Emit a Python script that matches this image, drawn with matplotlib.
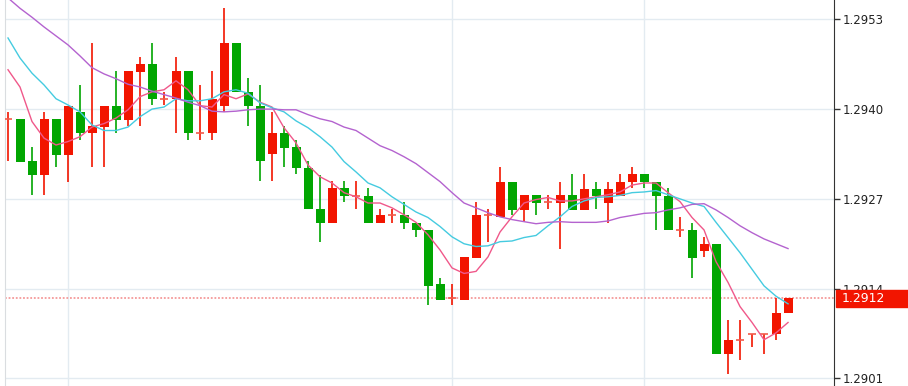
import math
import matplotlib
matplotlib.use("Agg")
import matplotlib.pyplot as plt
import matplotlib.transforms as mtransforms
from matplotlib.patches import Rectangle
import numpy as np

# OHLC per candle, oldest first
opens = [1.29386, 1.29386, 1.29325, 1.29305, 1.29386, 1.29334, 1.29396, 1.29366, 1.29374, 1.29405,
         1.29384, 1.29454, 1.29465, 1.29415, 1.29415, 1.29455, 1.29366, 1.29366, 1.29405, 1.29496,
         1.29425, 1.29405, 1.29335, 1.29366, 1.29345, 1.29315, 1.29256, 1.29235, 1.29286, 1.29274,
         1.29274, 1.29235, 1.29246, 1.29246, 1.29235, 1.29225, 1.29146, 1.29126, 1.29124, 1.29185,
         1.29246, 1.29244, 1.29295, 1.29254, 1.29276, 1.29266, 1.29264, 1.29276, 1.29254, 1.29285,
         1.29264, 1.29274, 1.29295, 1.29306, 1.29295, 1.29274, 1.29225, 1.29225, 1.29195, 1.29205,
         1.29045, 1.29065, 1.29075, 1.29075, 1.29075, 1.29105]
highs = [1.29396, 1.29386, 1.29345, 1.29396, 1.29386, 1.29405, 1.29435, 1.29496, 1.29405, 1.29455,
         1.29455, 1.29476, 1.29496, 1.29425, 1.29476, 1.29455, 1.29435, 1.29455, 1.29546, 1.29496,
         1.29445, 1.29435, 1.29396, 1.29376, 1.29355, 1.29325, 1.29305, 1.29296, 1.29296, 1.29296,
         1.29286, 1.29256, 1.29256, 1.29266, 1.29235, 1.29225, 1.29156, 1.29146, 1.29186, 1.29266,
         1.29256, 1.29316, 1.29295, 1.29276, 1.29276, 1.29276, 1.29295, 1.29306, 1.29306, 1.29295,
         1.29295, 1.29306, 1.29316, 1.29306, 1.29295, 1.29286, 1.29244, 1.29235, 1.29215, 1.29205,
         1.29095, 1.29095, 1.29075, 1.29075, 1.29126, 1.29126]
lows = [1.29325, 1.29324, 1.29276, 1.29276, 1.29316, 1.29295, 1.29355, 1.29316, 1.29316, 1.29366,
        1.29376, 1.29376, 1.29406, 1.29406, 1.29366, 1.29355, 1.29355, 1.29355, 1.29396, 1.29425,
        1.29376, 1.29296, 1.29296, 1.29316, 1.29306, 1.29256, 1.29207, 1.29235, 1.29266, 1.29256,
        1.29235, 1.29235, 1.29235, 1.29227, 1.29215, 1.29116, 1.29124, 1.29116, 1.29124, 1.29185,
        1.29207, 1.29244, 1.29247, 1.29237, 1.29246, 1.29256, 1.29197, 1.29254, 1.29254, 1.29256,
        1.29235, 1.29274, 1.29286, 1.29286, 1.29225, 1.29225, 1.29215, 1.29156, 1.29186, 1.29045,
        1.29016, 1.29036, 1.29056, 1.29046, 1.29066, 1.29105]
closes = [1.29386, 1.29324, 1.29305, 1.29386, 1.29334, 1.29405, 1.29366, 1.29376, 1.29405, 1.29384,
          1.29455, 1.29465, 1.29415, 1.29415, 1.29455, 1.29366, 1.29366, 1.29415, 1.29496, 1.29425,
          1.29405, 1.29325, 1.29366, 1.29344, 1.29315, 1.29256, 1.29235, 1.29286, 1.29274, 1.29274,
          1.29235, 1.29246, 1.29246, 1.29235, 1.29225, 1.29144, 1.29124, 1.29126, 1.29186, 1.29246,
          1.29246, 1.29295, 1.29254, 1.29276, 1.29264, 1.29266, 1.29276, 1.29254, 1.29285, 1.29274,
          1.29285, 1.29295, 1.29306, 1.29295, 1.29274, 1.29225, 1.29225, 1.29185, 1.29205, 1.29045,
          1.29065, 1.29065, 1.29075, 1.29075, 1.29105, 1.29126]

# moving averages as drawn (pink / cyan / purple)
ma_fast = [1.29457, 1.29432, 1.29382, 1.29358, 1.29348, 1.29353, 1.29360, 1.29374, 1.29379, 1.29387,
           1.29399, 1.29418, 1.29425, 1.29428, 1.29441, 1.29428, 1.29405, 1.29403, 1.29421, 1.29415,
           1.29422, 1.29410, 1.29403, 1.29373, 1.29351, 1.29319, 1.29302, 1.29293, 1.29279, 1.29273,
           1.29264, 1.29264, 1.29257, 1.29247, 1.29236, 1.29218, 1.29196, 1.29170, 1.29162, 1.29165,
           1.29186, 1.29222, 1.29244, 1.29264, 1.29269, 1.29272, 1.29267, 1.29267, 1.29270, 1.29273,
           1.29276, 1.29280, 1.29290, 1.29293, 1.29293, 1.29279, 1.29266, 1.29243, 1.29225, 1.29179,
           1.29149, 1.29114, 1.29091, 1.29066, 1.29076, 1.29091]
ma_mid = [1.29503, 1.29474, 1.29452, 1.29435, 1.29415, 1.29406, 1.29396, 1.29377, 1.29369, 1.29369,
          1.29374, 1.29389, 1.29400, 1.29403, 1.29415, 1.29412, 1.29412, 1.29415, 1.29425, 1.29428,
          1.29423, 1.29409, 1.29402, 1.29396, 1.29383, 1.29373, 1.29360, 1.29345, 1.29324, 1.29309,
          1.29293, 1.29286, 1.29273, 1.29262, 1.29251, 1.29243, 1.29230, 1.29215, 1.29205, 1.29201,
          1.29202, 1.29208, 1.29209, 1.29214, 1.29217, 1.29231, 1.29244, 1.29259, 1.29267, 1.29272,
          1.29273, 1.29275, 1.29279, 1.29280, 1.29282, 1.29276, 1.29270, 1.29264, 1.29259, 1.29236,
          1.29214, 1.29192, 1.29168, 1.29144, 1.29129, 1.29118]
ma_slow = [1.29561, 1.29546, 1.29533, 1.29519, 1.29506, 1.29493, 1.29477, 1.29460, 1.29451, 1.29444,
           1.29436, 1.29432, 1.29426, 1.29421, 1.29416, 1.29410, 1.29405, 1.29397, 1.29396, 1.29397,
           1.29399, 1.29400, 1.29400, 1.29399, 1.29399, 1.29392, 1.29386, 1.29382, 1.29374, 1.29369,
           1.29358, 1.29347, 1.29340, 1.29331, 1.29321, 1.29308, 1.29295, 1.29279, 1.29264, 1.29257,
           1.29250, 1.29244, 1.29240, 1.29237, 1.29234, 1.29236, 1.29237, 1.29236, 1.29236, 1.29236,
           1.29238, 1.29243, 1.29246, 1.29249, 1.29250, 1.29254, 1.29257, 1.29262, 1.29263, 1.29254,
           1.29243, 1.29231, 1.29221, 1.29212, 1.29205, 1.29198]

price_ticks = [1.2901, 1.2914, 1.2927, 1.2940, 1.2953]
session_starts = [5, 37, 53]  # candles where vertical grid lines fall
last_price = closes[-1]

UP = "#f21500"
DOWN = "#01a601"
GRID = "#e3ebf1"

plt.rcParams["font.family"] = ["DejaVu Sans"]

fig = plt.figure(figsize=(9.08, 3.86), dpi=100)
ax = fig.add_axes([5 / 908, 0, 829 / 908, 1])

o = np.array(opens)
h = np.array(highs)
l = np.array(lows)
c = np.array(closes)
x = np.arange(len(o))

# Grid
for t in price_ticks:
    ax.axhline(t, color=GRID, lw=1, zorder=0)
for s in session_starts:
    ax.axvline(s, color=GRID, lw=1, zorder=0)

# Candles
colors = np.where(c > o, UP, np.where(c < o, DOWN, UP))
ax.vlines(x, l, h, colors=colors, lw=1.2, zorder=2)
body = c != o
ax.bar(x[body], np.abs(c - o)[body], bottom=np.minimum(o, c)[body], width=0.75,
       color=colors[body], edgecolor="none", zorder=3)
doji = ~body
ax.hlines(c[doji], x[doji] - 0.32, x[doji] + 0.32, colors="#f25a4a", lw=1.2, zorder=3)

# Moving averages
ax.plot(x, ma_fast, color="#f0588a", lw=1, zorder=4)
ax.plot(x, ma_mid, color="#45cbe0", lw=1, zorder=4)
ax.plot(x, ma_slow, color="#b463cf", lw=1, zorder=4)

# Current price line + tag
ax.axhline(last_price, color="#f59a9a", lw=1.3, linestyle=(0, (1, 1)), zorder=1)
blend = mtransforms.blended_transform_factory(fig.transFigure, ax.transData)
tag_h = 0.000246
ax.add_patch(Rectangle((836 / 908, last_price - tag_h / 2), 72 / 908, tag_h,
                       transform=blend, color=UP, clip_on=False, zorder=5))
ax.text(842 / 908, last_price, f"{math.floor(last_price * 1e4) / 1e4:.4f}",
        transform=blend, color="white", fontsize=9, va="center", ha="left", zorder=6)

# Axes
ax.set_xlim(-0.25, 68.83)
ax.set_ylim(1.28999, 1.29558)
ax.set_xticks([])
ax.yaxis.tick_right()
ax.set_yticks(price_ticks)
ax.set_yticklabels([f"{t:.4f}" for t in price_ticks])
ax.tick_params(axis="y", length=4, width=1, color="#333333", labelsize=8.5,
               labelcolor="#222222", pad=2)
ax.spines["top"].set_visible(False)
ax.spines["bottom"].set_visible(False)
ax.spines["left"].set_color("#dadde0")
ax.spines["right"].set_color("#333333")

fig.savefig("out.png", dpi=100)
